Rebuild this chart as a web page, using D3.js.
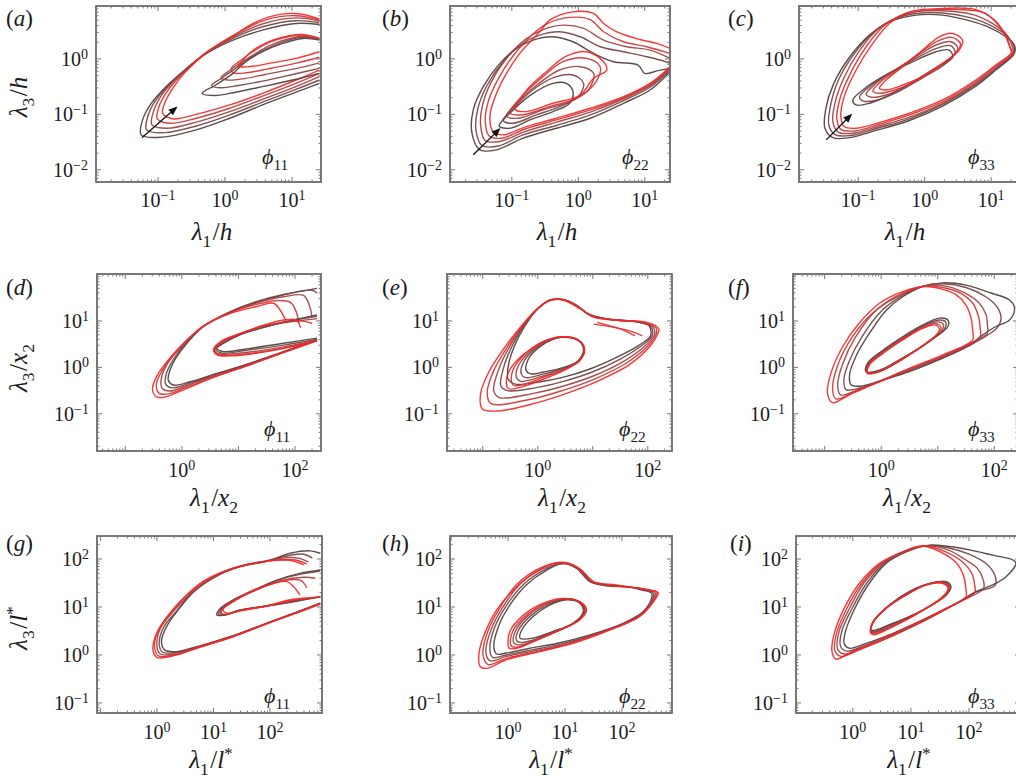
<!DOCTYPE html>
<html>
<head>
<meta charset="utf-8">
<script src="https://d3js.org/d3.v7.min.js"></script>
<style>
  body { margin: 0; background: #fff; }
  text { font-family: "Liberation Serif", "DejaVu Serif", serif; fill: #1a1a1a; }
</style>
</head>
<body>
<script>
// contour colours, from the darkest level to the red one
var lineColors = ["#4f3d3d", "#754343", "#9e4040", "#cf3535", "#fa2525"];

// tick exponents (log10) that carry a label, per row
var row1XTicks = [-1, 0, 1], row1YTicks = [-2, -1, 0];
var row2XTicks = [0, 2],     row2YTicks = [-1, 0, 1];
var row3XTicks = [0, 1, 2],  row3YTicks = [-1, 0, 1, 2];

// all contour points are [log10(lambda1/.), log10(lambda3/.)]
// (a) phi11, outer-scaled
var aOuter = [
  [[1.41,-0.44],[1.06,-0.60],[0.56,-0.83],[0.07,-1.07],[-0.43,-1.28],[-0.93,-1.41],[-1.25,-1.37],[-1.23,-1.10],[-1.10,-0.80],[-0.88,-0.50],[-0.60,-0.20],[-0.30,0.08],[0.10,0.33],[0.56,0.52],[1.06,0.64],[1.41,0.62]],
  [[1.41,-0.38],[1.06,-0.55],[0.56,-0.78],[0.07,-1.01],[-0.43,-1.21],[-0.90,-1.33],[-1.17,-1.28],[-1.15,-1.03],[-1.03,-0.74],[-0.82,-0.45],[-0.58,-0.18],[-0.30,0.09],[0.10,0.36],[0.56,0.58],[1.06,0.69],[1.41,0.65]],
  [[1.41,-0.32],[1.06,-0.50],[0.56,-0.73],[0.07,-0.95],[-0.43,-1.14],[-0.86,-1.25],[-1.09,-1.19],[-1.07,-0.96],[-0.96,-0.68],[-0.75,-0.38],[-0.55,-0.16],[-0.29,0.10],[0.12,0.40],[0.58,0.64],[1.06,0.74],[1.41,0.68]],
  [[1.41,-0.26],[1.06,-0.44],[0.56,-0.67],[0.07,-0.89],[-0.43,-1.07],[-0.82,-1.16],[-1.01,-1.08],[-0.99,-0.88],[-0.87,-0.60],[-0.66,-0.30],[-0.52,-0.15],[-0.28,0.11],[0.10,0.41],[0.62,0.71],[1.06,0.78],[1.41,0.70]],
  [[1.41,-0.20],[1.06,-0.38],[0.56,-0.62],[0.07,-0.83],[-0.43,-1.00],[-0.78,-1.08],[-0.93,-0.98],[-0.90,-0.80],[-0.78,-0.53],[-0.58,-0.22],[-0.28,0.12],[0.07,0.37],[0.36,0.60],[0.66,0.76],[1.06,0.82],[1.41,0.72]]
];
var aInner = [
  [[1.41,-0.26],[1.01,-0.38],[0.56,-0.50],[0.16,-0.60],[-0.14,-0.66],[-0.34,-0.62],[-0.14,-0.47],[0.12,-0.26],[0.31,-0.05],[0.56,0.13],[0.86,0.28],[1.16,0.37],[1.41,0.34]],
  [[1.41,-0.17],[1.01,-0.28],[0.56,-0.40],[0.20,-0.48],[-0.06,-0.52],[-0.20,-0.48],[-0.04,-0.34],[0.17,-0.16],[0.38,0.02],[0.62,0.18],[0.90,0.32],[1.16,0.39],[1.41,0.35]],
  [[1.41,-0.07],[1.03,-0.18],[0.60,-0.28],[0.26,-0.36],[0.04,-0.38],[-0.06,-0.34],[0.08,-0.20],[0.26,-0.05],[0.46,0.10],[0.68,0.25],[0.94,0.36],[1.16,0.41],[1.41,0.36]],
  [[1.41,0.03],[1.05,-0.08],[0.64,-0.18],[0.32,-0.25],[0.12,-0.25],[0.10,-0.16],[0.22,-0.04],[0.40,0.12],[0.66,0.30],[0.94,0.40],[1.16,0.43],[1.41,0.37]],
  [[1.41,0.13],[1.06,0.01],[0.66,-0.08],[0.36,-0.14],[0.21,-0.13],[0.29,0.01],[0.46,0.19],[0.71,0.34],[0.96,0.42],[1.16,0.44],[1.41,0.37]]
];
var arrowA = [[-1.24,-1.42],[-0.73,-0.88]];

// (b) phi22, outer-scaled
var bOuter = [
  [[1.38,-0.23],[1.08,-0.56],[0.68,-0.80],[0.18,-1.07],[-0.33,-1.25],[-0.83,-1.43],[-1.23,-1.64],[-1.48,-1.64],[-1.60,-1.34],[-1.58,-0.92],[-1.43,-0.50],[-1.18,-0.08],[-0.93,0.19],[-0.68,0.34],[-0.38,0.40],[-0.08,0.31],[0.23,0.10],[0.53,-0.05],[0.90,-0.11],[1.00,-0.26],[1.20,-0.21],[1.38,-0.17]],
  [[1.38,-0.20],[1.08,-0.51],[0.68,-0.75],[0.18,-1.01],[-0.33,-1.20],[-0.83,-1.37],[-1.20,-1.57],[-1.45,-1.56],[-1.54,-1.28],[-1.51,-0.89],[-1.37,-0.47],[-1.13,-0.05],[-0.85,0.27],[-0.58,0.43],[-0.28,0.49],[0.03,0.40],[0.33,0.22],[0.68,0.13],[1.03,0.04],[1.23,-0.02],[1.38,-0.08]],
  [[1.38,-0.18],[1.08,-0.48],[0.68,-0.72],[0.18,-0.96],[-0.33,-1.14],[-0.80,-1.31],[-1.18,-1.49],[-1.40,-1.47],[-1.47,-1.19],[-1.44,-0.83],[-1.32,-0.44],[-1.10,-0.02],[-0.80,0.35],[-0.53,0.53],[-0.23,0.61],[0.08,0.55],[0.38,0.34],[0.73,0.22],[1.08,0.16],[1.38,0.01]],
  [[1.38,-0.16],[1.08,-0.46],[0.68,-0.70],[0.18,-0.92],[-0.33,-1.10],[-0.79,-1.26],[-1.15,-1.43],[-1.34,-1.39],[-1.40,-1.11],[-1.35,-0.75],[-1.20,-0.35],[-0.99,0.04],[-0.70,0.43],[-0.48,0.63],[-0.13,0.75],[0.18,0.71],[0.38,0.49],[0.68,0.31],[1.03,0.22],[1.38,0.10]],
  [[1.38,-0.14],[1.08,-0.44],[0.68,-0.68],[0.18,-0.89],[-0.33,-1.07],[-0.78,-1.22],[-1.13,-1.37],[-1.28,-1.31],[-1.33,-1.04],[-1.25,-0.68],[-1.08,-0.26],[-0.88,0.10],[-0.58,0.49],[-0.43,0.70],[-0.08,0.85],[0.23,0.82],[0.38,0.64],[0.58,0.49],[0.93,0.35],[1.18,0.28],[1.38,0.19]]
];
var bInner = [
  [[-1.19,-1.21],[-0.98,-0.92],[-0.68,-0.62],[-0.38,-0.44],[-0.18,-0.44],[-0.08,-0.59],[-0.13,-0.80],[-0.38,-0.95],[-0.73,-1.10],[-1.03,-1.25]],
  [[-1.13,-1.11],[-0.93,-0.83],[-0.63,-0.51],[-0.33,-0.32],[-0.08,-0.29],[0.08,-0.44],[0.00,-0.68],[-0.28,-0.86],[-0.63,-1.01],[-0.98,-1.16]],
  [[-1.08,-1.03],[-0.88,-0.74],[-0.58,-0.43],[-0.28,-0.20],[0.03,-0.14],[0.23,-0.26],[0.15,-0.56],[-0.13,-0.77],[-0.53,-0.92],[-0.90,-1.07]],
  [[-1.03,-0.97],[-0.83,-0.65],[-0.53,-0.32],[-0.23,-0.05],[0.13,0.01],[0.33,-0.14],[0.25,-0.44],[-0.03,-0.71],[-0.43,-0.86],[-0.85,-1.01]],
  [[-0.95,-0.91],[-0.78,-0.57],[-0.48,-0.23],[-0.18,0.05],[0.13,0.13],[0.38,-0.05],[0.43,-0.20],[0.23,-0.35],[0.03,-0.65],[-0.38,-0.80],[-0.80,-0.95]]
];
var arrowB = [[-1.58,-1.73],[-1.19,-1.27]];

// (c) phi33, outer-scaled
var cOuter = [
  [[1.35,0.10],[1.07,-0.20],[0.77,-0.49],[0.27,-0.85],[-0.23,-1.11],[-0.73,-1.29],[-1.13,-1.42],[-1.38,-1.42],[-1.50,-1.25],[-1.49,-0.92],[-1.37,-0.45],[-1.13,0.03],[-0.83,0.43],[-0.53,0.67],[-0.13,0.79],[0.27,0.79],[0.67,0.69],[0.97,0.57],[1.22,0.40],[1.35,0.25]],
  [[1.34,0.10],[1.07,-0.18],[0.77,-0.46],[0.27,-0.82],[-0.23,-1.08],[-0.71,-1.25],[-1.11,-1.38],[-1.34,-1.37],[-1.44,-1.20],[-1.42,-0.87],[-1.30,-0.39],[-1.06,0.09],[-0.77,0.48],[-0.48,0.71],[-0.13,0.82],[0.27,0.83],[0.70,0.74],[1.00,0.60],[1.24,0.41],[1.34,0.24]],
  [[1.33,0.10],[1.07,-0.16],[0.77,-0.44],[0.27,-0.80],[-0.23,-1.05],[-0.68,-1.21],[-1.08,-1.34],[-1.30,-1.32],[-1.38,-1.14],[-1.35,-0.80],[-1.21,-0.33],[-0.98,0.15],[-0.70,0.54],[-0.42,0.74],[-0.15,0.85],[0.27,0.87],[0.73,0.80],[1.02,0.64],[1.24,0.43],[1.32,0.22]],
  [[1.32,0.10],[1.07,-0.13],[0.77,-0.41],[0.27,-0.77],[-0.23,-1.01],[-0.66,-1.17],[-1.06,-1.30],[-1.26,-1.27],[-1.32,-1.09],[-1.28,-0.74],[-1.12,-0.27],[-0.88,0.22],[-0.62,0.59],[-0.33,0.80],[0.05,0.88],[0.50,0.89],[0.90,0.83],[1.12,0.60],[1.24,0.38],[1.29,0.20]],
  [[1.30,0.10],[1.07,-0.11],[0.77,-0.38],[0.27,-0.74],[-0.23,-0.98],[-0.63,-1.13],[-1.03,-1.25],[-1.21,-1.22],[-1.26,-1.04],[-1.21,-0.68],[-1.03,-0.20],[-0.78,0.28],[-0.53,0.64],[-0.23,0.85],[0.27,0.91],[0.77,0.89],[1.05,0.70],[1.20,0.46],[1.27,0.25],[1.30,0.15]]
];
var cInner = [
  [[-1.08,-0.74],[-0.93,-0.56],[-0.63,-0.32],[-0.23,-0.08],[0.17,0.13],[0.37,0.16],[0.42,0.04],[0.22,-0.14],[-0.13,-0.38],[-0.48,-0.62],[-0.83,-0.80],[-1.03,-0.83]],
  [[-0.98,-0.69],[-0.84,-0.51],[-0.56,-0.28],[-0.18,-0.02],[0.18,0.19],[0.39,0.24],[0.46,0.11],[0.30,-0.10],[-0.03,-0.34],[-0.38,-0.58],[-0.71,-0.74],[-0.92,-0.76]],
  [[-0.88,-0.64],[-0.76,-0.47],[-0.48,-0.23],[-0.13,0.04],[0.19,0.26],[0.40,0.31],[0.50,0.19],[0.38,0.00],[0.07,-0.23],[-0.25,-0.47],[-0.58,-0.65],[-0.80,-0.69]],
  [[-0.78,-0.58],[-0.67,-0.42],[-0.40,-0.19],[-0.08,0.10],[0.21,0.33],[0.41,0.39],[0.54,0.27],[0.45,0.08],[0.17,-0.16],[-0.14,-0.40],[-0.45,-0.56],[-0.69,-0.62]],
  [[-0.68,-0.53],[-0.58,-0.38],[-0.33,-0.14],[-0.03,0.16],[0.22,0.40],[0.42,0.46],[0.57,0.34],[0.52,0.16],[0.27,-0.08],[-0.03,-0.32],[-0.33,-0.47],[-0.58,-0.56]]
];
var arrowC = [[-1.48,-1.46],[-1.11,-1.01]];

// (d) phi11, wall-distance scaled
var dOuter = [
  [[2.39,0.59],[1.80,0.34],[1.21,0.09],[0.62,-0.13],[0.15,-0.31],[-0.15,-0.38],[-0.24,-0.27],[-0.21,-0.06],[-0.09,0.23],[0.09,0.52],[0.38,0.88],[0.80,1.16],[1.27,1.38],[1.80,1.56],[2.39,1.70]],
  [[2.39,0.59],[1.80,0.34],[1.21,0.08],[0.62,-0.14],[0.14,-0.34],[-0.18,-0.44],[-0.29,-0.35],[-0.27,-0.12],[-0.14,0.19],[0.07,0.52],[0.38,0.88],[0.80,1.17],[1.27,1.40],[1.80,1.57],[2.30,1.66],[2.39,1.60]],
  [[2.39,0.58],[1.80,0.33],[1.21,0.07],[0.62,-0.16],[0.12,-0.38],[-0.21,-0.51],[-0.35,-0.45],[-0.36,-0.22],[-0.23,0.13],[0.05,0.52],[0.38,0.88],[0.82,1.17],[1.30,1.38],[1.80,1.52],[2.15,1.55],[2.25,1.35],[2.30,1.10]],
  [[2.39,0.58],[1.80,0.33],[1.21,0.06],[0.62,-0.18],[0.10,-0.42],[-0.24,-0.57],[-0.40,-0.56],[-0.45,-0.36],[-0.33,-0.03],[0.04,0.52],[0.38,0.89],[0.84,1.17],[1.30,1.35],[1.70,1.44],[1.92,1.40],[2.02,1.20],[2.07,0.95]],
  [[2.39,0.57],[1.80,0.32],[1.21,0.06],[0.62,-0.19],[0.09,-0.45],[-0.27,-0.63],[-0.44,-0.64],[-0.52,-0.47],[-0.43,-0.16],[-0.24,0.16],[0.03,0.52],[0.38,0.89],[0.85,1.16],[1.33,1.31],[1.62,1.38],[1.74,1.23],[1.86,0.95]]
];
var dInner = [
  [[2.39,1.13],[1.97,1.02],[1.50,0.88],[1.03,0.70],[0.74,0.52],[0.62,0.41],[0.74,0.34],[1.21,0.41],[1.80,0.52],[2.39,0.63]],
  [[2.39,1.10],[1.97,1.01],[1.50,0.88],[1.03,0.71],[0.72,0.52],[0.60,0.39],[0.70,0.31],[1.15,0.37],[1.80,0.48],[2.39,0.60]],
  [[2.39,1.05],[2.05,1.00],[1.50,0.90],[1.03,0.72],[0.70,0.53],[0.58,0.37],[0.66,0.29],[1.05,0.31],[1.70,0.42],[2.39,0.58]],
  [[2.30,0.95],[2.10,1.00],[1.50,0.91],[1.03,0.72],[0.69,0.54],[0.57,0.38],[0.64,0.28],[0.98,0.27],[1.60,0.37],[2.39,0.57]],
  [[2.10,0.85],[2.02,1.02],[1.80,1.02],[1.50,0.93],[1.03,0.73],[0.68,0.55],[0.56,0.39],[0.62,0.27],[0.91,0.25],[1.50,0.34],[2.00,0.46],[2.39,0.57]]
];

// (e) phi22, wall-distance scaled
var eOuter = [
  [[2.02,0.90],[1.74,0.99],[1.26,1.04],[0.90,1.16],[0.65,1.38],[0.41,1.47],[0.17,1.42],[-0.04,1.21],[-0.24,0.88],[-0.42,0.47],[-0.53,0.07],[-0.54,-0.25],[-0.41,-0.36],[-0.01,-0.32],[0.47,-0.21],[0.96,-0.03],[1.44,0.22],[1.83,0.47],[2.05,0.68]],
  [[2.05,0.88],[1.80,0.98],[1.40,1.02],[0.95,1.13],[0.70,1.34],[0.44,1.46],[0.20,1.43],[-0.03,1.23],[-0.26,0.88],[-0.47,0.45],[-0.62,0.00],[-0.67,-0.40],[-0.55,-0.50],[-0.05,-0.44],[0.47,-0.30],[0.99,-0.10],[1.50,0.18],[1.88,0.46],[2.08,0.68]],
  [[2.10,0.86],[1.85,0.98],[1.45,1.02],[0.98,1.11],[0.72,1.32],[0.45,1.46],[0.21,1.44],[-0.02,1.24],[-0.28,0.87],[-0.52,0.43],[-0.71,-0.04],[-0.80,-0.50],[-0.70,-0.65],[-0.08,-0.56],[0.47,-0.40],[1.02,-0.18],[1.56,0.13],[1.95,0.46],[2.12,0.70]],
  [[2.15,0.85],[1.92,0.97],[1.48,1.01],[1.00,1.09],[0.75,1.29],[0.46,1.45],[0.22,1.45],[-0.01,1.25],[-0.30,0.86],[-0.57,0.41],[-0.80,-0.07],[-0.92,-0.54],[-0.85,-0.78],[-0.11,-0.68],[0.47,-0.49],[1.05,-0.24],[1.62,0.10],[2.00,0.46],[2.15,0.71]],
  [[2.20,0.83],[1.99,0.97],[1.50,1.01],[1.02,1.08],[0.77,1.26],[0.47,1.45],[0.23,1.45],[-0.01,1.26],[-0.32,0.86],[-0.62,0.40],[-0.89,-0.10],[-1.04,-0.57],[-1.01,-0.89],[-0.74,-0.94],[-0.14,-0.80],[0.47,-0.58],[1.08,-0.30],[1.68,0.07],[2.05,0.47],[2.18,0.72]]
];
var eInner = [
  [[-0.21,-0.07],[-0.17,0.18],[0.02,0.43],[0.29,0.61],[0.53,0.65],[0.74,0.58],[0.83,0.40],[0.74,0.15],[0.47,0.00],[0.11,-0.10],[-0.13,-0.14]],
  [[-0.30,-0.14],[-0.26,0.11],[-0.06,0.39],[0.24,0.60],[0.52,0.65],[0.74,0.58],[0.84,0.40],[0.75,0.15],[0.49,-0.01],[0.11,-0.14],[-0.22,-0.22]],
  [[-0.39,-0.21],[-0.35,0.04],[-0.15,0.33],[0.18,0.59],[0.51,0.66],[0.74,0.58],[0.84,0.40],[0.76,0.15],[0.50,-0.02],[0.11,-0.18],[-0.31,-0.30]],
  [[-0.48,-0.29],[-0.44,-0.03],[-0.24,0.28],[0.10,0.56],[0.50,0.66],[0.74,0.59],[0.85,0.40],[0.76,0.15],[0.52,-0.03],[0.11,-0.21],[-0.30,-0.38],[-0.44,-0.39]],
  [[-0.57,-0.36],[-0.53,-0.10],[-0.32,0.22],[-0.01,0.47],[0.29,0.63],[0.50,0.66],[0.74,0.59],[0.85,0.40],[0.77,0.15],[0.53,-0.03],[0.11,-0.25],[-0.32,-0.43],[-0.53,-0.46]]
];
var eTails = [
  [[1.02,0.93],[1.38,0.86],[1.74,0.76],[1.90,0.68]],
  [[1.08,0.97],[1.50,0.83],[1.77,0.68]]
];

// (f) phi33, wall-distance scaled
var fOuter = [
  [[2.36,1.27],[2.27,1.02],[2.03,0.88],[1.80,0.70],[1.56,0.48],[1.09,0.20],[0.50,-0.09],[0.03,-0.27],[-0.33,-0.40],[-0.53,-0.38],[-0.56,-0.16],[-0.45,0.23],[-0.21,0.73],[0.09,1.23],[0.38,1.52],[0.73,1.74],[1.09,1.82],[1.50,1.77],[1.97,1.59],[2.27,1.45]],
  [[2.05,0.85],[1.56,0.47],[1.09,0.21],[0.50,-0.07],[-0.01,-0.30],[-0.39,-0.45],[-0.62,-0.48],[-0.66,-0.26],[-0.56,0.15],[-0.33,0.68],[0.01,1.22],[0.38,1.55],[0.74,1.75],[1.09,1.80],[1.50,1.72],[1.85,1.52],[2.05,1.30],[2.12,1.05]],
  [[1.88,0.73],[1.56,0.50],[1.09,0.23],[0.50,-0.05],[-0.04,-0.30],[-0.45,-0.50],[-0.72,-0.59],[-0.77,-0.37],[-0.68,0.08],[-0.46,0.64],[-0.07,1.25],[0.38,1.58],[0.75,1.75],[1.09,1.76],[1.45,1.62],[1.72,1.40],[1.85,1.15],[1.88,0.90]],
  [[1.75,0.66],[1.09,0.25],[0.50,-0.03],[-0.07,-0.32],[-0.50,-0.54],[-0.80,-0.68],[-0.86,-0.47],[-0.79,-0.03],[-0.58,0.52],[-0.25,1.05],[0.15,1.45],[0.38,1.60],[0.76,1.75],[1.09,1.72],[1.40,1.60],[1.62,1.38],[1.72,1.10],[1.75,0.85]],
  [[1.62,0.59],[1.09,0.27],[0.50,-0.02],[-0.09,-0.34],[-0.56,-0.59],[-0.86,-0.76],[-0.95,-0.56],[-0.89,-0.13],[-0.68,0.45],[-0.39,0.95],[-0.03,1.38],[0.38,1.63],[0.76,1.74],[1.09,1.68],[1.33,1.56],[1.50,1.34],[1.59,1.06],[1.62,0.77]]
];
var fInner = [
  [[-0.27,-0.09],[-0.24,0.09],[0.03,0.37],[0.38,0.66],[0.73,0.91],[1.03,1.06],[1.18,1.02],[1.18,0.88],[0.97,0.66],[0.62,0.37],[0.26,0.12],[-0.03,-0.06]],
  [[-0.26,-0.10],[-0.23,0.08],[0.03,0.35],[0.38,0.64],[0.73,0.89],[1.02,1.02],[1.14,0.98],[1.12,0.83],[0.95,0.65],[0.62,0.37],[0.26,0.11],[-0.03,-0.07]],
  [[-0.25,-0.11],[-0.22,0.07],[0.03,0.33],[0.38,0.62],[0.73,0.87],[1.00,0.98],[1.10,0.92],[1.06,0.77],[0.93,0.64],[0.62,0.37],[0.26,0.10],[-0.03,-0.08]],
  [[-0.25,-0.12],[-0.22,0.06],[0.03,0.31],[0.38,0.60],[0.73,0.85],[0.98,0.94],[1.06,0.85],[0.98,0.70],[0.62,0.37],[0.26,0.09],[-0.03,-0.09]],
  [[-0.24,-0.13],[-0.21,0.05],[0.03,0.30],[0.38,0.59],[0.73,0.84],[0.97,0.91],[1.03,0.80],[0.91,0.62],[0.62,0.37],[0.26,0.09],[-0.03,-0.09]]
];

// (g) phi11, l* scaled
var gOuter = [
  [[2.89,1.08],[2.53,0.92],[1.94,0.66],[1.35,0.40],[0.76,0.19],[0.35,0.07],[0.14,0.10],[0.08,0.28],[0.17,0.59],[0.35,0.90],[0.65,1.32],[1.06,1.65],[1.47,1.84],[1.94,1.95],[2.36,2.12],[2.71,2.17],[2.89,2.12]],
  [[2.89,1.08],[2.53,0.92],[1.94,0.66],[1.35,0.40],[0.76,0.18],[0.33,0.05],[0.10,0.06],[0.04,0.23],[0.12,0.58],[0.35,0.92],[0.65,1.32],[1.06,1.65],[1.47,1.84],[1.94,1.96],[2.36,2.08],[2.60,2.10],[2.75,2.02]],
  [[2.89,1.07],[2.53,0.91],[1.94,0.66],[1.35,0.39],[0.76,0.18],[0.31,0.02],[0.06,0.02],[0.00,0.18],[0.06,0.55],[0.30,0.92],[0.65,1.33],[1.06,1.66],[1.47,1.85],[1.94,1.96],[2.30,2.03],[2.50,2.02],[2.68,1.94]],
  [[2.89,1.07],[2.53,0.91],[1.94,0.65],[1.35,0.39],[0.76,0.17],[0.30,0.00],[0.03,-0.02],[-0.04,0.14],[0.01,0.48],[0.22,0.85],[0.60,1.32],[1.06,1.67],[1.50,1.86],[1.94,1.96],[2.25,1.99],[2.45,1.98],[2.65,1.90]],
  [[2.89,1.06],[2.53,0.90],[1.94,0.65],[1.35,0.38],[0.76,0.16],[0.29,-0.02],[0.00,-0.05],[-0.07,0.10],[-0.03,0.38],[0.14,0.73],[0.41,1.11],[0.76,1.49],[1.18,1.74],[1.59,1.88],[1.94,1.95],[2.20,1.98],[2.42,1.96],[2.60,1.88]]
];
var gInner = [
  [[2.89,1.21],[2.42,1.11],[1.94,1.02],[1.47,0.94],[1.18,0.83],[1.06,0.83],[1.12,0.97],[1.35,1.15],[1.71,1.35],[2.12,1.56],[2.53,1.70],[2.89,1.77]],
  [[2.89,1.75],[2.53,1.68],[2.12,1.55],[1.71,1.34],[1.35,1.13],[1.13,0.95],[1.09,0.84],[1.20,0.83],[1.47,0.93],[1.94,1.02],[2.42,1.12],[2.89,1.21]],
  [[2.80,1.60],[2.60,1.62],[2.20,1.55],[1.71,1.33],[1.33,1.11],[1.15,0.95],[1.12,0.85],[1.22,0.84],[1.47,0.93],[1.94,1.02],[2.42,1.13],[2.89,1.21]],
  [[2.65,1.40],[2.55,1.55],[2.25,1.55],[1.68,1.32],[1.32,1.09],[1.16,0.95],[1.15,0.86],[1.23,0.85],[1.47,0.92],[1.94,1.02],[2.40,1.14],[2.89,1.21]],
  [[2.53,1.25],[2.42,1.42],[2.30,1.53],[2.06,1.49],[1.65,1.32],[1.30,1.08],[1.17,0.95],[1.24,0.87],[1.47,0.92],[1.94,1.02],[2.36,1.15],[2.89,1.21]]
];

// (h) phi22, l* scaled
var hOuter = [
  [[2.52,1.18],[2.37,0.90],[2.02,0.66],[1.44,0.42],[0.85,0.24],[0.38,0.14],[-0.03,0.04],[-0.20,0.02],[-0.25,0.17],[-0.17,0.59],[0.03,1.04],[0.32,1.46],[0.68,1.77],[0.97,1.91],[1.20,1.81],[1.44,1.53],[1.73,1.44],[2.08,1.42],[2.37,1.35],[2.52,1.29]],
  [[2.55,1.20],[2.40,0.92],[2.10,0.68],[1.50,0.42],[0.90,0.22],[0.40,0.10],[-0.03,0.00],[-0.27,-0.05],[-0.32,0.12],[-0.24,0.56],[-0.03,1.03],[0.28,1.48],[0.68,1.80],[0.97,1.91],[1.22,1.80],[1.45,1.53],[1.75,1.45],[2.12,1.42],[2.42,1.36],[2.55,1.30]],
  [[2.58,1.23],[2.43,0.95],[2.17,0.72],[1.58,0.45],[0.95,0.21],[0.44,0.08],[-0.03,-0.03],[-0.32,-0.12],[-0.39,0.07],[-0.30,0.52],[-0.09,1.00],[0.23,1.50],[0.70,1.84],[1.00,1.90],[1.25,1.79],[1.47,1.53],[1.80,1.45],[2.18,1.41],[2.48,1.35],[2.58,1.31]],
  [[2.61,1.26],[2.46,0.98],[2.24,0.76],[1.65,0.47],[1.05,0.22],[0.50,0.07],[-0.03,-0.07],[-0.35,-0.20],[-0.44,0.00],[-0.36,0.48],[-0.15,0.97],[0.16,1.48],[0.62,1.84],[1.02,1.92],[1.27,1.78],[1.49,1.53],[1.85,1.45],[2.25,1.40],[2.55,1.33],[2.61,1.32]],
  [[2.64,1.29],[2.49,1.01],[2.31,0.80],[1.73,0.49],[1.14,0.24],[0.56,0.07],[-0.03,-0.10],[-0.38,-0.28],[-0.49,-0.24],[-0.51,0.04],[-0.41,0.45],[-0.20,0.94],[0.09,1.35],[0.44,1.70],[0.79,1.91],[1.08,1.91],[1.29,1.77],[1.50,1.53],[1.90,1.46],[2.31,1.39],[2.61,1.32]]
];
var hInner = [
  [[0.21,0.35],[0.24,0.52],[0.44,0.80],[0.73,1.04],[1.03,1.15],[1.26,1.08],[1.32,0.90],[1.14,0.66],[0.79,0.49],[0.44,0.35]],
  [[0.15,0.30],[0.18,0.51],[0.39,0.81],[0.70,1.05],[1.01,1.16],[1.26,1.09],[1.34,0.91],[1.17,0.68],[0.80,0.47],[0.40,0.30],[0.22,0.26]],
  [[0.10,0.25],[0.13,0.50],[0.35,0.82],[0.67,1.06],[1.00,1.17],[1.26,1.10],[1.35,0.92],[1.20,0.70],[0.82,0.47],[0.42,0.28],[0.18,0.21]],
  [[0.05,0.20],[0.08,0.49],[0.31,0.82],[0.65,1.07],[0.98,1.17],[1.26,1.10],[1.37,0.93],[1.23,0.72],[0.83,0.48],[0.43,0.27],[0.14,0.16]],
  [[0.00,0.28],[0.03,0.49],[0.27,0.83],[0.62,1.08],[0.97,1.18],[1.26,1.11],[1.38,0.94],[1.26,0.73],[0.85,0.49],[0.44,0.28],[0.15,0.14],[0.02,0.14]]
];

// (i) phi33, l* scaled
var iOuter = [
  [[2.81,1.91],[2.64,1.63],[2.41,1.46],[2.12,1.32],[1.84,1.11],[1.26,0.76],[0.69,0.45],[0.23,0.24],[-0.06,0.14],[-0.15,0.24],[-0.12,0.52],[0.05,1.01],[0.28,1.49],[0.57,1.91],[0.92,2.15],[1.32,2.29],[1.66,2.26],[2.01,2.19],[2.41,2.08],[2.76,1.98]],
  [[2.45,1.45],[2.12,1.31],[1.84,1.11],[1.26,0.75],[0.69,0.43],[0.21,0.20],[-0.10,0.08],[-0.21,0.17],[-0.19,0.50],[0.00,1.00],[0.24,1.50],[0.55,1.92],[0.90,2.16],[1.30,2.28],[1.66,2.23],[2.00,2.10],[2.30,1.90],[2.45,1.65]],
  [[2.25,1.38],[1.84,1.11],[1.26,0.73],[0.69,0.40],[0.16,0.14],[-0.14,0.02],[-0.26,0.11],[-0.24,0.48],[-0.05,0.99],[0.19,1.50],[0.52,1.92],[0.88,2.16],[1.28,2.28],[1.66,2.18],[1.92,2.00],[2.15,1.80],[2.25,1.55]],
  [[2.10,1.30],[1.70,1.02],[1.20,0.70],[0.60,0.36],[0.10,0.10],[-0.20,-0.03],[-0.31,0.09],[-0.28,0.46],[-0.10,0.98],[0.15,1.49],[0.49,1.91],[0.87,2.15],[1.25,2.27],[1.60,2.15],[1.88,1.95],[2.05,1.70],[2.10,1.45]],
  [[1.95,1.21],[1.55,0.94],[0.97,0.59],[0.40,0.28],[-0.06,0.04],[-0.29,-0.09],[-0.36,0.07],[-0.32,0.45],[-0.15,0.97],[0.11,1.49],[0.46,1.91],[0.86,2.15],[1.20,2.27],[1.61,2.08],[1.81,1.88],[1.92,1.60],[1.95,1.35]]
];
var iInner = [
  [[0.31,0.52],[0.37,0.73],[0.63,1.04],[0.97,1.32],[1.32,1.49],[1.61,1.53],[1.69,1.42],[1.61,1.25],[1.32,1.01],[0.97,0.80],[0.63,0.63],[0.40,0.52]],
  [[0.31,0.50],[0.36,0.71],[0.61,1.02],[0.95,1.30],[1.30,1.48],[1.59,1.52],[1.68,1.41],[1.59,1.24],[1.30,1.00],[0.95,0.78],[0.61,0.60],[0.39,0.49]],
  [[0.31,0.48],[0.35,0.69],[0.60,1.00],[0.94,1.28],[1.29,1.47],[1.58,1.51],[1.66,1.40],[1.58,1.23],[1.29,0.99],[0.94,0.76],[0.60,0.57],[0.38,0.47]],
  [[0.31,0.47],[0.35,0.68],[0.58,0.98],[0.93,1.26],[1.27,1.46],[1.56,1.50],[1.65,1.40],[1.56,1.22],[1.27,0.98],[0.93,0.74],[0.58,0.54],[0.37,0.44]],
  [[0.31,0.45],[0.34,0.66],[0.57,0.97],[0.92,1.25],[1.26,1.46],[1.55,1.49],[1.64,1.39],[1.55,1.22],[1.26,0.97],[0.92,0.73],[0.57,0.52],[0.37,0.42]]
];

// ---------- layout ----------
var W = 1016, H = 778;
var svg = d3.select("body").append("svg").attr("width", W).attr("height", H);
var defs = svg.append("defs");
defs.append("marker").attr("id", "arr").attr("viewBox", "0 0 10 10")
  .attr("refX", 8).attr("refY", 5).attr("markerWidth", 7).attr("markerHeight", 7)
  .attr("orient", "auto")
  .append("path").attr("d", "M0,1 L10,5 L0,9 Z").attr("fill", "#111");

var rows = [
  { y: [6, 182],   yd: [-2.22, 0.955], xt: row1XTicks, yt: row1YTicks, xlab: 207, tit: 240, phiY: 164, labY: 26,
    xTitle: [{t:"λ",i:1},{t:"1",sub:1},{t:"/"},{t:"h",i:1}], yTitle: [{t:"λ",i:1},{t:"3",sub:1},{t:"/"},{t:"h",i:1}], yTitleC: 97 },
  { y: [274, 451], yd: [-1.80, 2.01],  xt: row2XTicks, yt: row2YTicks, xlab: 477, tit: 506, phiY: 436, labY: 295,
    xTitle: [{t:"λ",i:1},{t:"1",sub:1},{t:"/"},{t:"x",i:1},{t:"2",sub:1}], yTitle: [{t:"λ",i:1},{t:"3",sub:1},{t:"/"},{t:"x",i:1},{t:"2",sub:1}], yTitleC: 368 },
  { y: [536, 713], yd: [-1.21, 2.48],  xt: row3XTicks, yt: row3YTicks, xlab: 739, tit: 768, phiY: 703, labY: 551,
    xTitle: [{t:"λ",i:1},{t:"1",sub:1},{t:"/"},{t:"l",i:1},{t:"*",sup:1}], yTitle: [{t:"λ",i:1},{t:"3",sub:1},{t:"/"},{t:"l",i:1},{t:"*",sup:1}], yTitleC: 628 }
];

var panels = [
  { id: "a", row: 0, x: [96, 321],  xd: [-1.925, 1.433], labX: 6,   titX: 212, phiX: 262, phi: "11", fam: [{c: aOuter}, {c: aInner}], arrow: arrowA },
  { id: "b", row: 0, x: [450, 670], xd: [-1.93, 1.38],   labX: 382, titX: 557, phiX: 622, phi: "22", fam: [{c: bOuter}, {c: bInner, closed: 1}], arrow: arrowB },
  { id: "c", row: 0, x: [799, 1023], xd: [-1.89, 1.48],  labX: 728, titX: 905, phiX: 968, phi: "33", fam: [{c: cOuter, closed: 1}, {c: cInner, closed: 1}], arrow: arrowC },
  { id: "d", row: 1, x: [97, 321],  xd: [-1.50, 2.46],   labX: 6,   titX: 214, phiX: 264, phi: "11", fam: [{c: dOuter}, {c: dInner}] },
  { id: "e", row: 1, x: [447, 672], xd: [-1.65, 2.44],   labX: 382, titX: 562, phiX: 619, phi: "22", fam: [{c: eOuter, closed: 1}, {c: eInner, closed: 1}, {c: eTails, col: [3, 4]}] },
  { id: "f", row: 1, x: [793, 1018], xd: [-1.56, 2.42],  labX: 728, titX: 907, phiX: 968, phi: "33", fam: [{c: fOuter, closed: 1}, {c: fInner, closed: 1}] },
  { id: "g", row: 2, x: [97, 322],  xd: [-1.06, 2.92],   labX: 6,   titX: 211, phiX: 264, phi: "11", fam: [{c: gOuter}, {c: gInner}] },
  { id: "h", row: 2, x: [450, 672], xd: [-1.02, 2.88],   labX: 382, titX: 551, phiX: 619, phi: "22", fam: [{c: hOuter, closed: 1}, {c: hInner, closed: 1}] },
  { id: "i", row: 2, x: [796, 1020], xd: [-0.98, 2.88],  labX: 730, titX: 909, phiX: 968, phi: "33", fam: [{c: iOuter, closed: 1}, {c: iInner, closed: 1}] }
];

// text made of pieces: italic, subscript, superscript
function rich(g, x, y, parts, size, anchor, rotate) {
  var t = g.append("text").attr("x", x).attr("y", y)
    .attr("font-size", size).attr("text-anchor", anchor || "start");
  if (rotate) t.attr("transform", "rotate(-90," + x + "," + y + ")");
  var cur = 0;
  parts.forEach(function(p) {
    var off = p.sub ? size * 0.28 : (p.sup ? -size * 0.36 : 0);
    var s = t.append("tspan").text(p.t).attr("dy", off - cur);
    if (p.sub || p.sup) s.attr("font-size", size * 0.7);
    if (p.i) s.attr("font-style", "italic");
    if (p.t === "/") s.attr("dx", size * 0.06);
    cur = off;
  });
  return t;
}
function expParts(e) {
  return [{t: "10"}, {t: e < 0 ? "\u2212" + (-e) : String(e), sup: 1}];
}
function isDecade(v) {
  var l = Math.log10(v);
  return Math.abs(l - Math.round(l)) < 1e-6;
}

panels.forEach(function(p) {
  var r = rows[p.row];
  var xs = d3.scaleLog().domain([Math.pow(10, p.xd[0]), Math.pow(10, p.xd[1])]).range(p.x);
  var ys = d3.scaleLog().domain([Math.pow(10, r.yd[0]), Math.pow(10, r.yd[1])]).range([r.y[1], r.y[0]]);
  var g = svg.append("g");
  var x0 = p.x[0], x1 = p.x[1], y0 = r.y[0], y1 = r.y[1];

  defs.append("clipPath").attr("id", "clip-" + p.id)
    .append("rect").attr("x", x0).attr("y", y0).attr("width", x1 - x0).attr("height", y1 - y0);
  var plot = g.append("g").attr("clip-path", "url(#clip-" + p.id + ")");

  var line = d3.line().x(function(d) { return xs(Math.pow(10, d[0])); })
                      .y(function(d) { return ys(Math.pow(10, d[1])); });

  p.fam.forEach(function(f) {
    line.curve(f.closed ? d3.curveCatmullRomClosed.alpha(0.5) : d3.curveCatmullRom.alpha(0.5));
    f.c.forEach(function(c, k) {
      plot.append("path").attr("d", line(c))
        .attr("fill", "none")
        .attr("stroke", lineColors[f.col ? f.col[k] : k])
        .attr("stroke-width", 1.4)
        .attr("stroke-opacity", 0.92);
    });
  });

  if (p.arrow) {
    plot.append("line")
      .attr("x1", xs(Math.pow(10, p.arrow[0][0]))).attr("y1", ys(Math.pow(10, p.arrow[0][1])))
      .attr("x2", xs(Math.pow(10, p.arrow[1][0]))).attr("y2", ys(Math.pow(10, p.arrow[1][1])))
      .attr("stroke", "#111").attr("stroke-width", 1.3).attr("marker-end", "url(#arr)");
  }

  // frame with inward ticks on every side
  g.append("rect").attr("x", x0).attr("y", y0).attr("width", x1 - x0).attr("height", y1 - y0)
    .attr("fill", "none").attr("stroke", "#6a6a6a").attr("stroke-width", 1.8);
  xs.ticks().forEach(function(v) {
    var px = xs(v); if (px <= x0 + 1 || px >= x1 - 1) return;
    var len = isDecade(v) ? 5 : 2.5;
    g.append("line").attr("x1", px).attr("x2", px).attr("y1", y1).attr("y2", y1 - len).attr("stroke", "#777");
    g.append("line").attr("x1", px).attr("x2", px).attr("y1", y0).attr("y2", y0 + len).attr("stroke", "#777");
  });
  ys.ticks().forEach(function(v) {
    var py = ys(v); if (py <= y0 + 1 || py >= y1 - 1) return;
    var len = isDecade(v) ? 5 : 2.5;
    g.append("line").attr("y1", py).attr("y2", py).attr("x1", x0).attr("x2", x0 + len).attr("stroke", "#777");
    g.append("line").attr("y1", py).attr("y2", py).attr("x1", x1).attr("x2", x1 - len).attr("stroke", "#777");
  });

  // tick labels
  r.xt.forEach(function(e) {
    rich(g, xs(Math.pow(10, e)), r.xlab, expParts(e), 20, "middle");
  });
  r.yt.forEach(function(e) {
    rich(g, x0 - 8, ys(Math.pow(10, e)) + 7, expParts(e), 20, "end");
  });

  // axis titles, panel tag, component name
  rich(g, p.titX, r.tit, r.xTitle, 25, "middle");
  if (p.id === "a" || p.id === "d" || p.id === "g") {
    rich(g, 27, r.yTitleC, r.yTitle, 25, "middle", true);
  }
  rich(g, p.labX, r.labY, [{t: "("}, {t: p.id, i: 1}, {t: ")"}], 23);
  rich(g, p.phiX, r.phiY, [{t: "\u03d5", i: 1}, {t: p.phi, sub: 1}], 22);
});
</script>
</body>
</html>
